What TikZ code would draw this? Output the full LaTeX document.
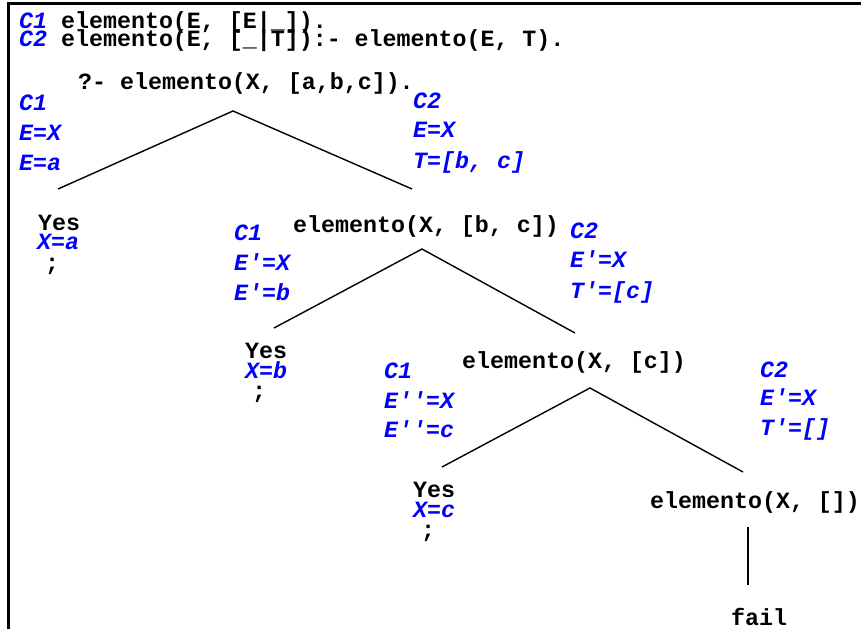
\documentclass[tikz,border=0pt]{standalone}
\usepackage{fontspec}
\setmonofont{Liberation Mono}
\newcommand{\codefont}{\ttfamily\bfseries\fontsize{23.3}{23.3}\selectfont}
\newcommand{\cl}[1]{{\color{blue}\itshape #1}}
\begin{document}
\begin{tikzpicture}[x=1pt,y=-1pt,
  code/.style={anchor=base west, inner sep=0pt, font=\codefont},
  bind/.style={code, text=blue, font=\codefont\itshape},
  semi/.style={anchor=base, inner sep=0pt, font=\codefont},
  branch/.style={line width=1.4pt},
  frame/.style={line width=3pt}]
\useasboundingbox (0,0) rectangle (861,629);

% frame (left and top edges)
\draw[frame] (8.5,629) -- (8.5,3) -- (861,3);

% program clauses
\node[code] (cl1) at (19,28) {\cl{C1} elemento(E, [E|\_]).};
\node[code] (cl2) at (19,46) {\cl{C2} elemento(E, [\_|T]):- elemento(E, T).};

% root goal
\node[code] (g0) at (78,89) {?- elemento(X, [a,b,c]).};
\node[bind] (g0c1) at (19,110) {C1};
\node[bind] (g0c1a) at (19,140) {E=X};
\node[bind] (g0c1b) at (19,170) {E=a};
\node[bind] (g0c2) at (413,108) {C2};
\node[bind] (g0c2a) at (413,137) {E=X};
\node[bind] (g0c2b) at (413,168) {T=[b, c]};
\coordinate (g0-top) at (233,111);
\coordinate (g0-l) at (58,189);
\coordinate (g0-r) at (412,189);
\draw[branch] (g0-l) -- (g0-top) -- (g0-r);

% first answer
\node[code] (y1) at (38,230) {Yes};
\node[bind] (y1x) at (37,249) {X=a};
\node[semi] (y1s) at (52,270) {;};

% second goal
\node[code] (g1) at (293,232) {elemento(X, [b, c])};
\node[bind] (g1c1) at (234,240) {C1};
\node[bind] (g1c1a) at (234,270) {E'=X};
\node[bind] (g1c1b) at (234,300) {E'=b};
\node[bind] (g1c2) at (570,238) {C2};
\node[bind] (g1c2a) at (570,267) {E'=X};
\node[bind] (g1c2b) at (570,298) {T'=[c]};
\coordinate (g1-top) at (422,249);
\coordinate (g1-l) at (274,328);
\coordinate (g1-r) at (575,333);
\draw[branch] (g1-l) -- (g1-top) -- (g1-r);

% second answer
\node[code] (y2) at (245,358) {Yes};
\node[bind] (y2x) at (245,378) {X=b};
\node[semi] (y2s) at (259,398) {;};

% third goal
\node[code] (g2) at (462,368) {elemento(X, [c])};
\node[bind] (g2c1) at (384,378) {C1};
\node[bind] (g2c1a) at (384,408) {E''=X};
\node[bind] (g2c1b) at (384,437) {E''=c};
\node[bind] (g2c2) at (760,377) {C2};
\node[bind] (g2c2a) at (760,405) {E'=X};
\node[bind] (g2c2b) at (760,435) {T'=[]};
\coordinate (g2-top) at (590,388);
\coordinate (g2-l) at (442,467);
\coordinate (g2-r) at (743,472);
\draw[branch] (g2-l) -- (g2-top) -- (g2-r);

% third answer
\node[code] (y3) at (413,497) {Yes};
\node[bind] (y3x) at (413,517) {X=c};
\node[semi] (y3s) at (428,537) {;};

% last goal and failure
\node[code] (g3) at (650,508) {elemento(X, [])};
\node[code] (fl) at (731,625) {fail};
\coordinate (g3-bot) at (748,527);
\coordinate (fl-top) at (748,585);
\draw[branch] (g3-bot) -- (fl-top);
\end{tikzpicture}
\end{document}
